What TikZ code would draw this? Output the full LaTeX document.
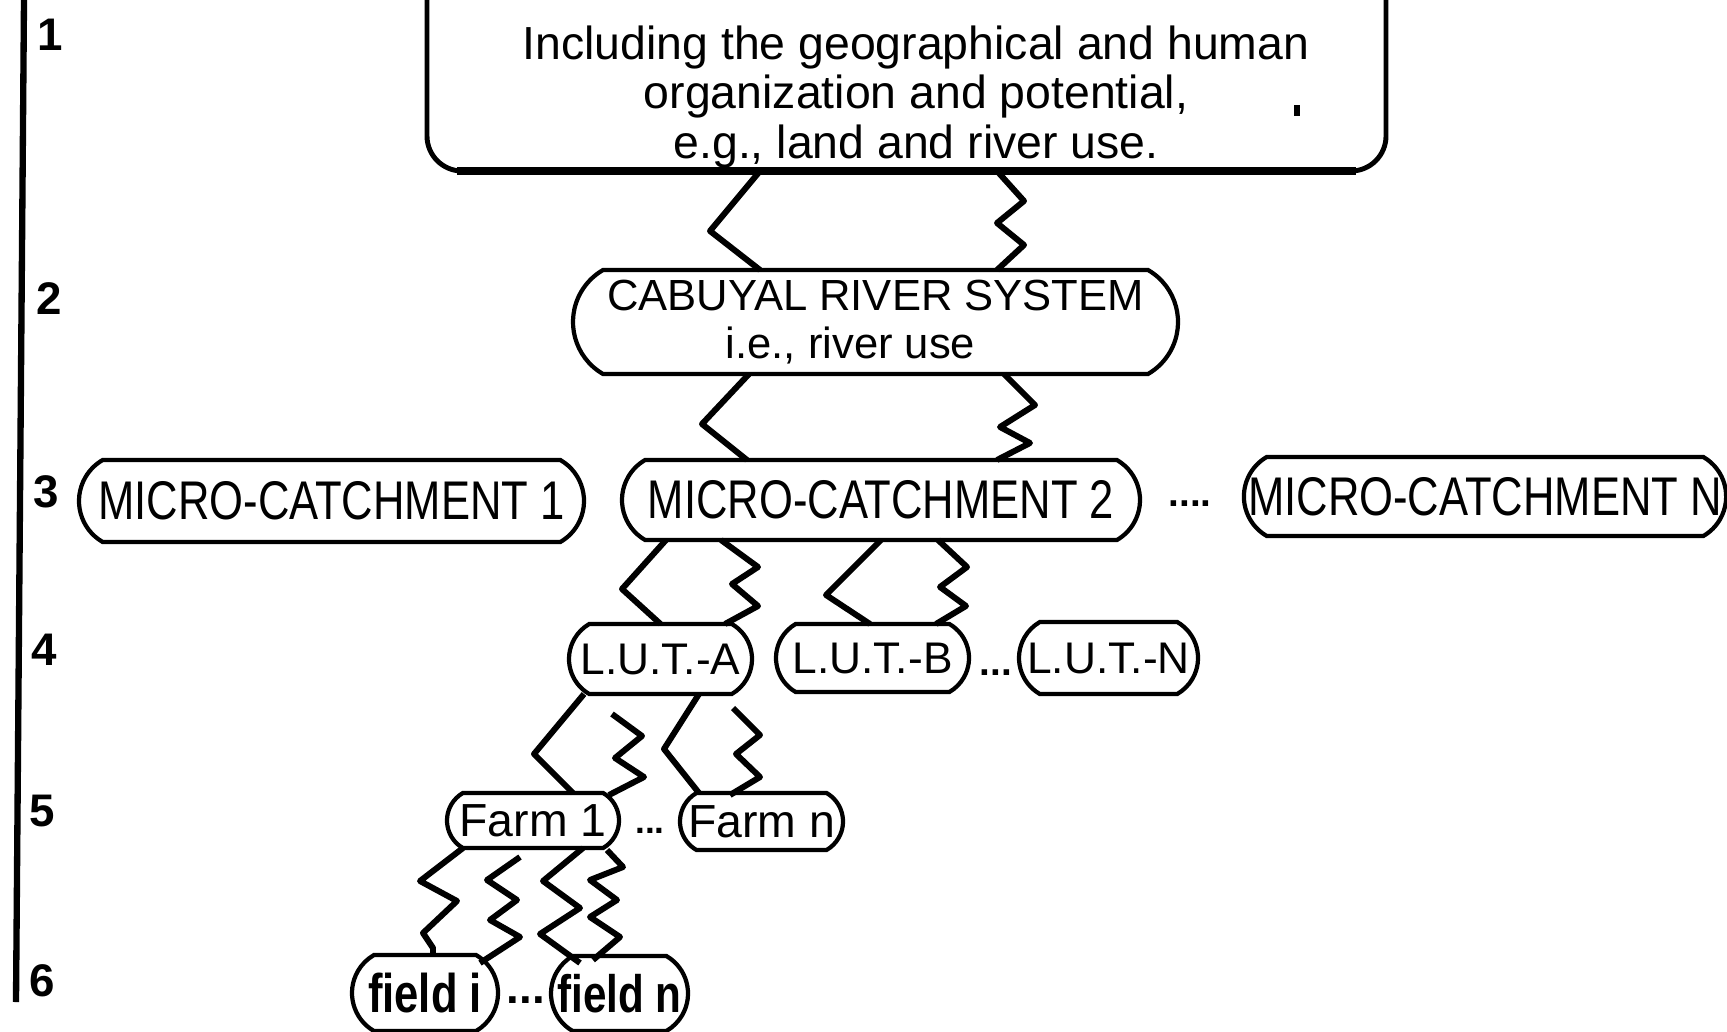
\documentclass[tikz,border=0pt]{standalone}
\usepackage{fontspec}
\setmainfont{Liberation Sans}
\newfontfamily\narrowfont{Liberation Sans}[FakeStretch=0.8]
\usetikzlibrary{shapes.misc,calc}
\begin{document}
\begin{tikzpicture}[box/.style={draw, line width=1.2pt, rounded rectangle, rounded rectangle arc length=120, inner xsep=0pt, inner ysep=0pt, outer sep=0pt},
    wire/.style={line width=1.7pt, line join=round}]
\useasboundingbox (0,0) rectangle (17.27,-10.31);
\clip (0,0) rectangle (17.27,-10.31);
\draw[line width=1.8pt] (0.24,0)--(0.16,-10.02);
\foreach \n/\x/\y in {1/0.50/-0.35,2/0.495/-2.985,3/0.46/-4.92,4/0.44/-6.50,5/0.42/-8.11,6/0.42/-9.81}
{
    \node (lvl\n) at (\x,\y)[font=\bfseries\fontsize{13}{13}\selectfont]{\n};
}

\node (region) at (9.065,-0.41)[draw, line width=1.4pt, rounded corners=0.35cm, minimum width=9.59cm, minimum height=2.6cm, outer sep=0pt]{};
\draw[line width=2.4pt] ($(region.south west)+(0.3,0)$) -- ($(region.south east)+(-0.3,0)$);
\node (regiontext) at (9.16,-0.97)[align=center, font=\fontsize{13.2}{14}\selectfont]{Including the geographical and human\\organization and potential,\\e.g., land and river use.};
\fill (12.94,-1.05) rectangle (13.00,-1.16);

\node (river) at (8.755,-3.22)[box, minimum width=6.05cm, minimum height=1.04cm, align=center, font=\fontsize{12.4}{13.6}\selectfont]{CABUYAL RIVER SYSTEM\\i.e., river use\hspace*{0.5cm}};

\node (mc1) at (3.315,-5.01)[box, minimum width=5.05cm, minimum height=0.82cm, font=\narrowfont\fontsize{15.5}{15.5}\selectfont]{MICRO-CATCHMENT 1};
\node (mc2) at (8.81,-5.00)[box, minimum width=5.18cm, minimum height=0.80cm, font=\narrowfont\fontsize{15.5}{15.5}\selectfont]{MICRO-CATCHMENT 2};
\node (mcdots) at (11.90,-5.035)[font=\bfseries\fontsize{11}{11}\selectfont]{....};
\node (mcn) at (14.85,-4.965)[box, minimum width=4.74cm, minimum height=0.79cm, font=\narrowfont\fontsize{15.5}{15.5}\selectfont]{MICRO-CATCHMENT N};

\node (luta) at (6.605,-6.59)[box, minimum width=1.83cm, minimum height=0.70cm, font=\fontsize{12.6}{12.6}\selectfont]{L.U.T.-A};
\node (lutb) at (8.725,-6.58)[box, minimum width=1.93cm, minimum height=0.68cm, font=\fontsize{12.6}{12.6}\selectfont]{L.U.T.-B};
\node (lutdots) at (9.96,-6.75)[anchor=base, font=\bfseries\fontsize{11}{11}\selectfont]{...};
\node (lutn) at (11.085,-6.58)[box, minimum width=1.79cm, minimum height=0.72cm, font=\fontsize{12.6}{12.6}\selectfont]{L.U.T.-N};

\node (farm1) at (5.33,-8.205)[box, minimum width=1.72cm, minimum height=0.55cm, font=\fontsize{13.2}{13.2}\selectfont]{Farm 1};
\node (farmdots) at (6.50,-8.33)[anchor=base, font=\bfseries\fontsize{10}{10}\selectfont]{...};
\node (farmn) at (7.615,-8.215)[box, minimum width=1.63cm, minimum height=0.57cm, font=\fontsize{13.2}{13.2}\selectfont]{Farm n};

\node (fieldi) at (4.25,-9.93)[box, minimum width=1.46cm, minimum height=0.76cm, font=\narrowfont\bfseries\fontsize{15.5}{15.5}\selectfont]{field i};
\node (fielddots) at (5.26,-10.00)[font=\bfseries\fontsize{13}{13}\selectfont]{...};
\node (fieldn) at (6.195,-9.935)[box, minimum width=1.37cm, minimum height=0.75cm, font=\narrowfont\bfseries\fontsize{15}{15}\selectfont]{field n};

% level 1 to 2
\draw[wire] ($(region.south)+(-1.465,0)$) -- ++(-0.50,-0.60) -- ($(river.north)+(-1.155,0)$);
\draw[wire] ($(region.south)+(0.905,0)$) -- ++(0.27,-0.30) -- ++(-0.27,-0.22) -- ++(0.27,-0.22) -- ($(river.north)+(1.215,0)$);
% level 2 to 3
\draw[wire] ($(river.south)+(-1.265,0)$) -- ++(-0.47,-0.50) -- ($(mc2.north)+(-1.34,0)$);
\draw[wire] ($(river.south)+(1.285,0)$) -- ++(0.31,-0.31) -- ++(-0.35,-0.22) -- ++(0.30,-0.16) -- ($(mc2.north)+(1.16,0)$);
% level 3 to 4
\draw[wire] ($(mc2.south)+(-2.15,0)$) -- ++(-0.44,-0.49) -- (luta.north);
\draw[wire] ($(mc2.south)+(-1.60,0)$) -- ++(0.37,-0.27) -- ++(-0.26,-0.17) -- ++(0.26,-0.22) -- ($(luta.north)+(0.645,0)$);
\draw[wire] (mc2.south) -- ++(-0.55,-0.55) -- ($(lutb.north)+(-0.025,0)$);
\draw[wire] ($(mc2.south)+(0.57,0)$) -- ++(0.29,-0.27) -- ++(-0.27,-0.20) -- ++(0.26,-0.19) -- ($(lutb.north)+(0.635,0)$);
% level 4 to 5
\draw[wire] ($(luta.south)+(-0.765,0)$) -- ++(-0.50,-0.60) -- ($(farm1.north)+(0.40,0)$);
\draw[wire] ($(luta.south)+(-0.485,-0.20)$) -- ++(0.30,-0.22) -- ++(-0.27,-0.22) -- ++(0.29,-0.19) -- ($(farm1.north)+(0.76,-0.02)$);
\draw[wire] ($(luta.south)+(0.385,0)$) -- ++(-0.35,-0.55) -- ($(farmn.north)+(-0.625,0)$);
\draw[wire] ($(luta.south)+(0.725,-0.14)$) -- ++(0.27,-0.27) -- ++(-0.24,-0.19) -- ++(0.24,-0.23) -- ($(farmn.north)+(-0.315,-0.02)$);
% level 5 to 6
\draw[wire] ($(farm1.south)+(-0.70,0)$) -- ++(-0.43,-0.33) -- ++(0.37,-0.20) -- ++(-0.34,-0.32) -- ++(0.10,-0.15) -- ($(fieldi.north)+(0.08,0)$);
\draw[wire] ($(farm1.south)+(-0.13,-0.09)$) -- ++(-0.33,-0.23) -- ++(0.30,-0.20) -- ++(-0.27,-0.20) -- ++(0.30,-0.17) -- ($(fieldi.north)+(0.55,-0.08)$);
\draw[wire] ($(farm1.south)+(0.50,0)$) -- ++(-0.40,-0.33) -- ++(0.37,-0.27) -- ++(-0.40,-0.26) -- ($(fieldn.north)+(-0.395,-0.07)$);
\draw[wire] ($(farm1.south)+(0.74,-0.02)$) -- ++(0.16,-0.17) -- ++(-0.33,-0.13) -- ++(0.27,-0.20) -- ++(-0.27,-0.17) -- ++(0.30,-0.20) -- ($(fieldn.north)+(-0.265,-0.04)$);
\end{tikzpicture}
\end{document}
